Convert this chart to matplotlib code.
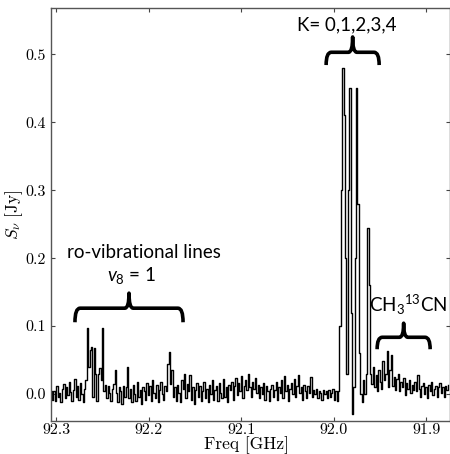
import numpy as np
import matplotlib
matplotlib.use("Agg")
import matplotlib.pyplot as plt
from matplotlib.path import Path
from matplotlib.patches import PathPatch

plt.rcParams['mathtext.fontset'] = 'custom'
plt.rcParams['mathtext.rm'] = 'Lato'
plt.rcParams['mathtext.it'] = 'Lato:italic'
plt.rcParams['axes.formatter.use_mathtext'] = True

# channel grid (GHz)
freq_start = 92.305
chan_width = 0.0015

flux = [
    0.005, -0.008, 0.004, -0.010, 0.012, -0.004, 0.002, -0.012, 0.008, 0.015,
    -0.006, 0.010, -0.002, 0.018, 0.003, -0.010, 0.006, 0.022, -0.004, 0.012,
    -0.008, 0.016, 0.000, -0.012, 0.008, 0.020, 0.097, 0.040, 0.065, 0.070,
    -0.005, 0.068, 0.030, -0.010, 0.030, 0.038, 0.020, 0.097, 0.005, 0.014,
    -0.006, 0.012, 0.002, -0.010, 0.008, 0.015, 0.036, 0.002, -0.012, 0.010,
    0.004, -0.015, 0.012, -0.004, 0.010, 0.040, -0.006, 0.008, -0.012, 0.014,
    0.000, -0.010, 0.018, -0.004, 0.006, -0.014, 0.010, 0.004, -0.008, 0.016,
    -0.002, 0.012, -0.010, 0.020, 0.002, -0.006, 0.014, -0.012, 0.006, 0.018,
    0.000, -0.008, 0.012, 0.004, 0.045, 0.062, 0.015, 0.035, -0.004, 0.010,
    -0.010, 0.014, 0.002, -0.012, 0.020, 0.008, 0.030, -0.006, 0.015, 0.004,
    0.028, -0.008, 0.010, -0.014, 0.006, 0.016, -0.004, 0.012, -0.010, 0.004,
    0.018, -0.006, 0.008, -0.012, 0.014, 0.000, 0.020, -0.008, 0.006, 0.012,
    -0.010, 0.016, 0.002, -0.006, 0.022, -0.004, 0.010, -0.012, 0.014, 0.006,
    0.018, -0.008, 0.012, 0.024, -0.002, 0.016, 0.004, 0.026, -0.006, 0.012,
    0.020, 0.006, 0.030, 0.010, -0.004, 0.018, 0.008, 0.024, 0.002, 0.014,
    -0.006, 0.010, 0.000, 0.016, -0.008, 0.012, 0.004, -0.010, 0.008, 0.014,
    -0.004, 0.006, 0.018, -0.008, 0.010, 0.002, 0.020, -0.006, 0.026, 0.004,
    0.014, -0.010, 0.008, 0.016, 0.000, 0.022, -0.004, 0.012, 0.028, 0.002,
    0.010, -0.008, 0.014, 0.004, -0.006, 0.012, 0.002, 0.025, -0.004, 0.006,
    0.000, 0.008, -0.006, 0.004, 0.002, -0.008, 0.006, 0.000, 0.004, -0.006,
    0.006, -0.004, 0.002, 0.008, -0.008, 0.004, -0.010, 0.005, 0.100, 0.300,
    0.480, 0.410, 0.200, 0.030, 0.300, 0.450, 0.120, -0.030, 0.010, 0.200,
    0.450, 0.280, 0.060, 0.000, -0.012, 0.020, 0.000, 0.030, 0.245, 0.160,
    0.030, 0.015, 0.040, 0.010, 0.028, 0.005, 0.035, 0.018, 0.008, 0.048,
    0.020, 0.030, 0.063, 0.010, 0.035, 0.058, 0.012, 0.025, 0.006, 0.022,
    0.030, 0.004, 0.018, 0.010, 0.024, -0.002, 0.016, 0.008, 0.020, 0.002,
    0.014, 0.006, 0.018, 0.004, 0.028, 0.008, -0.004, 0.012, 0.016, 0.000,
    0.010, -0.006, 0.014, 0.004, 0.018, -0.002, 0.008, 0.012, -0.004, 0.010,
    0.016, 0.002, 0.010, -0.004, 0.012, 0.006, 0.014,
]
freq = freq_start - chan_width * np.arange(len(flux))

xticks = [92.3, 92.2, 92.1, 92.0, 91.9]
yticks = [0.0, 0.1, 0.2, 0.3, 0.4, 0.5]

fig = plt.figure(figsize=(4.5, 4.54), dpi=100)
ax = fig.add_axes([0.1133, 0.0727, 0.886, 0.909])
ax.step(freq, flux, where='mid', color='black', lw=1.0)
ax.set_xlim(92.3054, 91.8746)
ax.set_ylim(-0.0396, 0.5677)

ax.set_xticks(xticks)
ax.set_xticklabels([f"{t:.1f}" for t in xticks], fontfamily='cmr10', fontsize=11.5)
ax.set_yticks(yticks)
ax.set_yticklabels([f"{t:.1f}" for t in yticks], fontfamily='cmr10', fontsize=11.5)
ax.tick_params(direction='in', top=True, right=True, length=3, width=0.8,
               color='#444444')
ax.tick_params(axis='x', pad=1.5)
ax.tick_params(axis='y', pad=4)
for s in ax.spines.values():
    s.set_color('#555555')
    s.set_linewidth(1.0)

ax.set_xlabel('Freq [GHz]', fontfamily='cmr10', fontsize=12.5, va='center')
ax.xaxis.set_label_coords(0.49, -0.059)
ax.set_ylabel(r'$S_\nu\ \mathrm{[Jy]}$', fontsize=12.5, math_fontfamily='cm', va='center')
ax.yaxis.set_label_coords(-0.092, 0.5)


def brace(x0, x1, yb, ybar, ytip, r=0.0055, r2=0.0045):
    xm = 0.5 * (x0 + x1)
    s = 1 if x1 > x0 else -1
    verts = [(x0, yb), (x0, ybar), (x0 + s * r, ybar),
             (xm - s * r2, ybar),
             (xm, ybar), (xm, ytip),
             (xm, ybar), (xm + s * r2, ybar),
             (x1 - s * r, ybar),
             (x1, ybar), (x1, yb)]
    codes = [Path.MOVETO, Path.CURVE3, Path.CURVE3, Path.LINETO,
             Path.CURVE3, Path.CURVE3, Path.CURVE3, Path.CURVE3,
             Path.LINETO, Path.CURVE3, Path.CURVE3]
    ax.add_patch(PathPatch(Path(verts, codes), fill=False, lw=2.6,
                           color='black', capstyle='butt', joinstyle='round'))


brace(92.2795, 92.1627, 0.1057, 0.1264, 0.1485)
brace(92.0081, 91.9508, 0.4842, 0.503, 0.5255)
brace(91.953, 91.8957, 0.066, 0.0836, 0.1043)

tkw = dict(ha='center', va='center', fontfamily='Lato', fontsize=13.5, color='black')
ax.text(92.2049, 0.2088, 'ro-vibrational lines', **tkw)
ax.text(92.2178, 0.175, r'$v_8$ = 1', **tkw)
ax.text(91.9854, 0.543, 'K= 0,1,2,3,4', **tkw)
ax.text(91.9195, 0.1308, r'CH$_{\mathit{3}}$$^{\mathit{13}}$CN', **tkw)

fig.savefig('out.png', dpi=100)
